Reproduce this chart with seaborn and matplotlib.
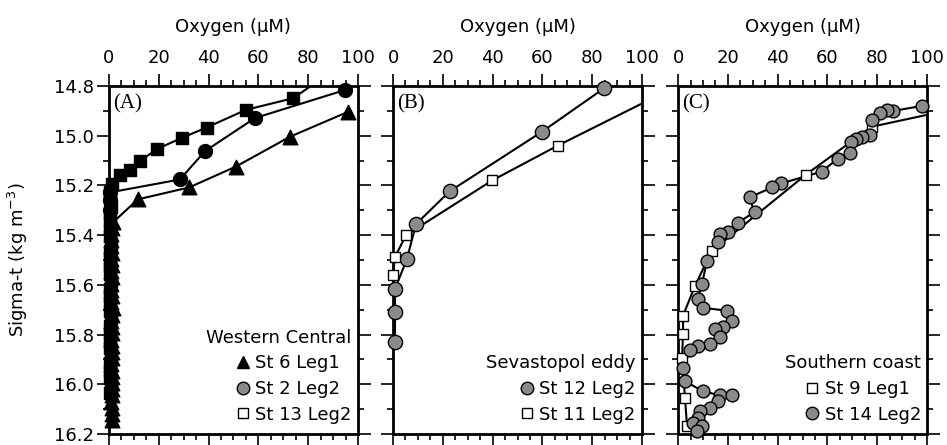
import numpy as np
import pandas as pd
import seaborn as sns
import matplotlib.pyplot as plt
from matplotlib.lines import Line2D
from matplotlib.ticker import MultipleLocator

sns.set_style("ticks", {'text.color': 'black', 'axes.labelcolor': 'black',
                        'xtick.color': 'black', 'ytick.color': 'black'})
plt.rcParams['font.family'] = ['DejaVu Sans']

# ---- (A) Western Central ----
a_tri_o2 = [96, 72.7, 51, 32.2, 11.6, 1.7, 1.2, 0.8, 1.0, 0.9, 1.3, 0.7, 1.1, 0.9, 1.4,
            1.0, 0.8, 1.2, 1.0, 1.5, 1.1, 0.9, 1.3, 1.2, 1.0, 1.4, 1.1, 1.3, 1.0, 1.2,
            1.4, 1.1, 1.3, 1.2, 1.0, 1.3, 1.2, 1.1]
a_tri_sig = [14.904, 15.004, 15.124, 15.208, 15.256, 15.348, 15.37, 15.395, 15.42, 15.445,
             15.47, 15.495, 15.52, 15.545, 15.57, 15.595, 15.62, 15.645, 15.67, 15.695,
             15.72, 15.745, 15.77, 15.795, 15.82, 15.845, 15.87, 15.895, 15.92, 15.945,
             15.97, 15.995, 16.02, 16.045, 16.07, 16.095, 16.12, 16.145]

a_cir_o2 = [94.8, 58.6, 38.6, 28.5, 0.4, 0.3, 0.5]
a_cir_sig = [14.816, 14.929, 15.062, 15.176, 15.228, 15.26, 15.30]

a_sq_o2 = [84, 74, 55, 39.2, 29.2, 19.2, 12.4, 8.4, 4.4, 1.2, 0.6, 0.4, 0.7, 0.5, 0.3,
           0.6, 0.4, 0.7, 0.5, 0.3, 0.6, 0.4, 0.8, 0.5, 0.4, 0.6, 0.3, 0.7, 0.5, 0.4,
           0.6, 0.5, 0.8, 0.4, 0.6, 0.5, 0.7, 0.4]
a_sq_sig = [14.78, 14.849, 14.896, 14.967, 15.009, 15.054, 15.103, 15.136, 15.156, 15.196,
            15.225, 15.255, 15.285, 15.315, 15.345, 15.375, 15.405, 15.435, 15.465, 15.495,
            15.525, 15.555, 15.585, 15.615, 15.645, 15.675, 15.705, 15.735, 15.765, 15.795,
            15.825, 15.855, 15.885, 15.915, 15.945, 15.975, 16.005, 16.035]

# ---- (B) Sevastopol eddy ----
b_cir_o2 = [84.9, 59.8, 22.7, 9.2, 5.6, 0.8, 0.8, 0.8]
b_cir_sig = [14.808, 14.984, 15.224, 15.356, 15.496, 15.616, 15.708, 15.828]

b_sq_o2 = [108, 66.1, 39.8, 5.2, 0.8, 0.0]
b_sq_sig = [14.83, 15.04, 15.18, 15.40, 15.488, 15.56]

# ---- (C) Southern coast ----
c_cir_o2 = [98, 86.5, 83.7, 80.9, 77.7, 76.9, 73.7, 71.3, 69.3, 68.9, 64.1, 57.8, 41.4,
            37.8, 28.7, 30.7, 23.9, 19.9, 16.7, 15.9, 11.6, 9.6, 8.0, 10.0, 19.5, 21.5,
            17.9, 14.7, 16.7, 12.7, 8.0, 4.8, 2.0, 2.8, 10.0, 16.7, 21.5, 15.9, 12.7,
            8.8, 8.0, 6.0, 9.6, 7.6]
c_cir_sig = [14.88, 14.90, 14.896, 14.908, 14.936, 14.996, 15.004, 15.012, 15.024, 15.068,
             15.092, 15.144, 15.192, 15.208, 15.248, 15.308, 15.35, 15.388, 15.396, 15.428,
             15.504, 15.596, 15.656, 15.692, 15.704, 15.744, 15.768, 15.776, 15.808, 15.836,
             15.844, 15.864, 15.936, 15.988, 16.028, 16.044, 16.044, 16.068, 16.096, 16.108,
             16.136, 16.156, 16.168, 16.188]

c_sq_o2 = [112, 77.7, 51.4, 13.5, 6.8, 2.0, 2.0, 1.6, 2.8, 3.6]
c_sq_sig = [14.89, 14.964, 15.156, 15.464, 15.604, 15.724, 15.796, 15.896, 16.056, 16.168]

GRAY = '#8a8a8a'


def draw(ax, o2, sig, marker, face, size):
    df = pd.DataFrame({'o2': o2, 'sig': sig})
    sns.lineplot(data=df, x='o2', y='sig', sort=False, estimator=None,
                 color='black', lw=1.5, ax=ax, zorder=2)
    pts = df[(df.o2 <= 100) & (df.sig >= 14.8)]
    sns.scatterplot(data=pts, x='o2', y='sig', marker=marker, s=size, color=face,
                    edgecolor='black', linewidth=1.0, ax=ax, zorder=3, clip_on=False)


fig = plt.figure(figsize=(9.47, 4.45), dpi=100)
lefts = [0.115, 0.415, 0.716]
axes = [fig.add_axes([l, 0.0247, 0.263, 0.782]) for l in lefts]

draw(axes[0], a_tri_o2, a_tri_sig, '^', 'black', 110)
draw(axes[0], a_cir_o2, a_cir_sig, 'o', 'black', 100)
draw(axes[0], a_sq_o2, a_sq_sig, 's', 'black', 65)

draw(axes[1], b_cir_o2, b_cir_sig, 'o', GRAY, 105)
draw(axes[1], b_sq_o2, b_sq_sig, 's', 'white', 55)

draw(axes[2], c_sq_o2, c_sq_sig, 's', 'white', 50)
draw(axes[2], c_cir_o2, c_cir_sig, 'o', GRAY, 85)

tri_h = Line2D([], [], marker='^', ls='none', color='black', markersize=8)
cir_h = Line2D([], [], marker='o', ls='none', markerfacecolor=GRAY,
               markeredgecolor='black', markersize=9)
sq_h = Line2D([], [], marker='s', ls='none', markerfacecolor='white',
              markeredgecolor='black', markersize=7)

legends = [
    ('Western Central', [tri_h, cir_h, sq_h], ['St 6 Leg1', 'St 2 Leg2', 'St 13 Leg2']),
    ('Sevastopol eddy', [cir_h, sq_h], ['St 12 Leg2', 'St 11 Leg2']),
    ('Southern coast', [sq_h, cir_h], ['St 9 Leg1', 'St 14 Leg2']),
]
labels = ['(A)', '(B)', '(C)']

for i, ax in enumerate(axes):
    ax.set_xlim(0, 100)
    ax.set_ylim(16.2, 14.8)
    ax.xaxis.set_major_locator(MultipleLocator(20))
    ax.xaxis.set_minor_locator(MultipleLocator(5))
    ax.yaxis.set_major_locator(MultipleLocator(0.2))
    ax.yaxis.set_minor_locator(MultipleLocator(0.1))
    ax.tick_params(which='both', direction='out', top=True, bottom=True,
                   left=True, right=True, labeltop=True, labelbottom=False,
                   labelleft=(i == 0), labelright=False, labelsize=13,
                   width=1.2, colors='black')
    ax.tick_params(which='major', length=9)
    ax.tick_params(axis='x', which='major', pad=5)
    ax.tick_params(axis='y', which='major', pad=2)
    ax.tick_params(which='minor', length=4)
    ax.xaxis.set_label_position('top')
    ax.set_xlabel('Oxygen (\u00b5M)', fontsize=13, labelpad=12, color='black')
    ax.set_ylabel('')
    for sp in ax.spines.values():
        sp.set_linewidth(2)
        sp.set_color('black')
    ax.text(0.015, 0.975, labels[i], transform=ax.transAxes, ha='left', va='top',
            fontsize=15, family='Liberation Serif', color='black')
    title, hs, ls = legends[i]
    leg = ax.legend(hs, ls, title=title, loc='lower right', bbox_to_anchor=(0.975, 0.03),
                    frameon=False, fontsize=13, title_fontsize=13, alignment='right',
                    handlelength=0.8, handletextpad=0.3, labelspacing=0.42, borderpad=0,
                    borderaxespad=0, labelcolor='black')
    leg.get_title().set_color('black')

axes[0].yaxis.set_major_formatter(plt.FormatStrFormatter('%.1f'))
axes[0].set_ylabel('Sigma-t (kg m$\\mathregular{^{-3}}$)', fontsize=13, color='black')
axes[0].yaxis.set_label_coords(-0.315, 0.5)

fig.savefig('out.png', dpi=100)
